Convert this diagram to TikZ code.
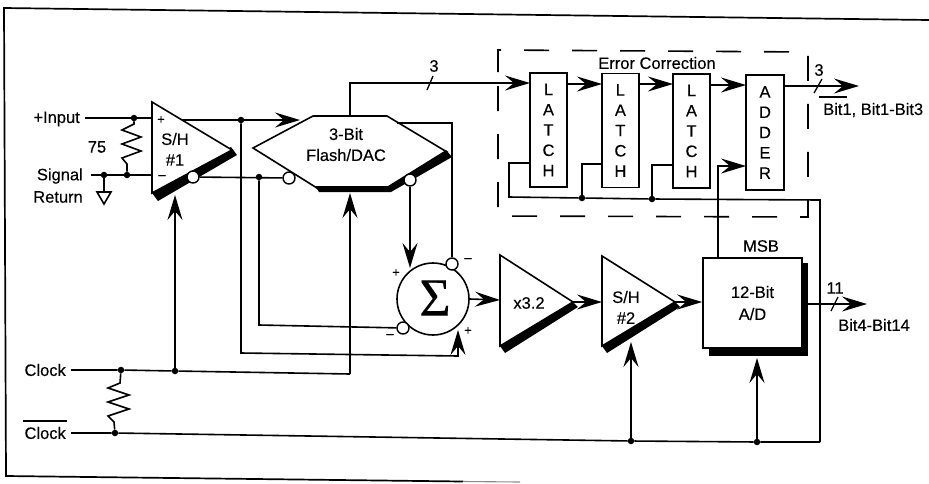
\documentclass[tikz,border=0pt]{standalone}
\usepackage{fontspec}
\setmainfont[FakeBold=0.25]{Liberation Sans}
\newfontfamily\sigfont[FakeBold=0.2]{Liberation Serif}
\usetikzlibrary{arrows.meta,decorations.pathmorphing}
\tikzset{
  x=1pt,y=-1pt,
  wire/.style={line width=1.6pt},
  sig/.style={wire,-{Stealth[length=25pt,width=15pt,inset=9pt]}},
  block/.style={draw,line width=1.6pt,fill=white},
  shade/.style={fill=black,draw=none},
  bubble/.style={circle,draw,line width=1.4pt,fill=white,minimum size=12pt,inner sep=0pt},
  jdot/.style={circle,fill=black,minimum size=6.5pt,inner sep=0pt},
  lbl/.style={font=\fontsize{16.5}{16.5}\selectfont,inner sep=0pt,text=black},
  sgn/.style={font=\fontsize{13}{13}\selectfont,inner sep=0pt,text=black},
  res/.style={wire,line join=miter},
  latch/.style={block,minimum width=37pt,minimum height=114pt,inner sep=0pt,align=center,font=\fontsize{16.5}{20.3}\selectfont},
  tick/.style={line width=1.3pt},
}
\begin{document}
\begin{tikzpicture}
\useasboundingbox (0,0) rectangle (929,483);
\fill[white] (0,0) rectangle (929,483);
% frame
\draw[line width=1.7pt] (929,20) -- (4,8) -- (6,476) -- (463,481.5);
\draw[line width=1.1pt,black!45] (463,481.5) -- (520,482);

% dashed box
\draw[line width=1.6pt,dash pattern=on 25pt off 23pt] (498,72) -- (498,50) -- (808,52) -- (808,217) -- (498,216) -- cycle;

% coordinates
\coordinate (inL) at (85,118);
\coordinate (inJ) at (134,118);
\coordinate (inE) at (152,118);
\coordinate (retL) at (91,175);
\coordinate (retE) at (152,175);
\coordinate (clkL) at (71,370);
\coordinate (nclkL) at (71,433);
\coordinate (busEnd) at (820,442);

% S/H 1
\fill[shade] (152,193) -- (231,147) -- (237,155) -- (158,201) -- cycle;
\path[block] (152,102) -- (232,150) -- (152,193) -- cycle;
\node[lbl] at (175,139) {S/H};
\node[lbl] at (175,160) {\#1};
\node[sgn] at (161,120) {+};
\node[sgn] at (162,177) {–};

% Hexagon
\path[block] (253,148) -- (313,116) -- (387,116) -- (447,152) -- (388,188) -- (317,188) -- cycle;
\fill[shade] (315,186) -- (388,186) -- (446,150) -- (452,157) -- (391,192) -- (319,192) -- cycle;
\node[lbl] at (346,134) {3-Bit};
\node[lbl] at (346,155) {Flash/DAC};
\coordinate (hexTop) at (350,116);
\coordinate (hexTR) at (397,123);

% bubbles on S/H and hex
\node[bubble] (shB) at (193,177) {};
\node[bubble] (hexBl) at (289,178) {};
\node[bubble] (hexBr) at (410,180) {};

% Sigma
\node[circle,draw,line width=1.6pt,fill=white,minimum size=72pt,inner sep=0pt] (sum) at (433,299) {};
\node[inner sep=0pt,font=\sigfont\fontsize{54}{54}\selectfont] at (435,298) {Σ};
\node[bubble] (sumT) at (452,264) {};
\node[bubble] (sumL) at (403,328) {};
\node[sgn] at (396,273) {+};
\node[sgn] at (468,331) {+};
\node[sgn] at (468,260) {–};
\node[sgn] at (390,336) {–};

% x3.2
\fill[shade] (500,346) -- (571,300) -- (578,307) -- (505,353) -- cycle;
\path[block] (500,255) -- (573,302) -- (500,346) -- cycle;
\node[lbl] at (529,303) {x3.2};
\coordinate (ampIn) at (500,300);
\coordinate (ampOut) at (573,302);

% S/H 2
\fill[shade] (602,346) -- (673,300) -- (680,307) -- (607,353) -- cycle;
\path[block] (602,256) -- (675,302) -- (602,346) -- cycle;
\node[lbl] at (626,297) {S/H};
\node[lbl] at (626,318) {\#2};
\coordinate (sh2In) at (602,302);
\coordinate (sh2Out) at (675,302);

% A/D
\fill[shade] (709,263) rectangle (808,356);
\node[block,minimum width=99pt,minimum height=90pt,inner sep=0pt,align=center,font=\fontsize{16.5}{22}\selectfont] (ad) at (752.5,303) {12-Bit\\A/D};
\node[lbl] at (761,246) {MSB};
\coordinate (adOut) at (808,304);
\coordinate (adOutE) at (867,304);

% Latches
\node[latch] (l1) at (548.5,130) {L\\A\\T\\C\\H};
\node[latch] (l2) at (620.4,130.5) {L\\A\\T\\C\\H};
\node[latch] (l3) at (691.5,131) {L\\A\\T\\C\\H};
\node[latch,minimum width=38pt,minimum height=115pt] (add) at (765,132.5) {A\\D\\D\\E\\R};
\node[lbl] at (657,63) {Error Correction};

% inputs
\draw[wire] (inL) -- (inE);
\draw[wire] (retL) -- (retE);
\node[jdot] (j1) at (inJ) {};
\node[jdot] (j2) at (127,175) {};
\node[jdot] (j3) at (104,175) {};
\draw[res] (j1) -- (134,124) -- (122,130) -- (141,137) -- (122,144) -- (141,151) -- (122,158) -- (127,164) -- (j2);
\coordinate (gnd) at (104,192);
\draw[wire] (j3) -- (gnd);
\draw[wire] (97,192) -- (111,192) -- (104,204) -- cycle;

\node[lbl,anchor=east] at (80,119) {+Input};
\node[lbl] at (97,147) {75};
\node[lbl,anchor=east] at (83,176) {Signal};
\node[lbl,anchor=east] at (83,197) {Return};
\node[lbl,anchor=east] at (66,370) {Clock};
\node[lbl,anchor=east] at (66,433) {Clock};
\draw[line width=1.4pt] (23,421) -- (67,421);

% S/H 1 output to hex
\coordinate (sh1Out) at (182,120);
\coordinate (hexIn) at (300,120);
\draw[sig] (sh1Out) -- (hexIn);
\node[jdot] (j4) at (241,120) {};
\draw[wire] (shB) -- (hexBl);
\node[jdot] (j5) at (259,177) {};

% feedback to sum
\draw[wire] (j5) -- (259,325) -- (sumL);
\draw[sig] (j4) -- (241,353) -- (458,356) -- (458,330);
\draw[sig] (hexBr) -- (410,268);
\draw[wire] (sumT) -- (452,123) -- (hexTR);

% 3-bit bus
\draw[sig] (hexTop) -- (350,83) -- (530,83);
\draw[tick] (427,90) -- (433,76);
\node[lbl] at (434,66) {3};

% latch chain
\draw[sig] (567,84) -- (602,84);
\draw[sig] (638,84) -- (673,84);
\draw[sig] (710,85) -- (746,85);
\draw[sig] (784,86) -- (859,86);
\draw[tick] (814,93) -- (822,79);
\node[lbl] at (819,70) {3};
\draw[line width=1.4pt] (819,97) -- (847,97);
\node[lbl,anchor=west] at (823,110) {Bit1, Bit1-Bit3};

% clock to latches
\node[jdot] (j6) at (582,198) {};
\node[jdot] (j7) at (652,199) {};
\draw[wire] (530,163) -- (509,163) -- (509,197) -- (j6) -- (j7) -- (820,200) -- (busEnd);
\draw[wire] (602,164) -- (582,164) -- (j6);
\draw[wire] (673,165) -- (652,165) -- (j7);

% MSB to adder
\draw[sig] (718,258) -- (718,166) -- (746,166);

% main path
\draw[sig] (sum.east) -- (ampIn);
\draw[sig] (ampOut) -- (sh2In);
\draw[sig] (sh2Out) -- (ad.west |- 0,302);
\draw[sig] (adOut) -- (adOutE);
\draw[tick] (831,311) -- (838,297);
\node[lbl] at (835,288) {11};
\node[lbl,anchor=west] at (838,325) {Bit4-Bit14};

% Clock lines
\node[jdot] (j8) at (121,370) {};
\node[jdot] (j9) at (175,371) {};
\node[jdot] (j10) at (115,433) {};
\node[jdot] (j11) at (631,441) {};
\node[jdot] (j12) at (757,442) {};
\draw[wire] (clkL) -- (j8) -- (j9) -- (350,374);
\draw[sig] (350,374) -- (350,193);
\draw[sig] (j9) -- (175,195);
\draw[wire] (nclkL) -- (j10) -- (j11) -- (j12) -- (busEnd);
\draw[res] (j8) -- (120,383) -- (108,388) -- (129,395) -- (108,402) -- (129,409) -- (108,416) -- (114,422) -- (j10);
\draw[sig] (j11) -- (631,342);
\draw[sig] (j12) -- (757,358);
\end{tikzpicture}
\end{document}
